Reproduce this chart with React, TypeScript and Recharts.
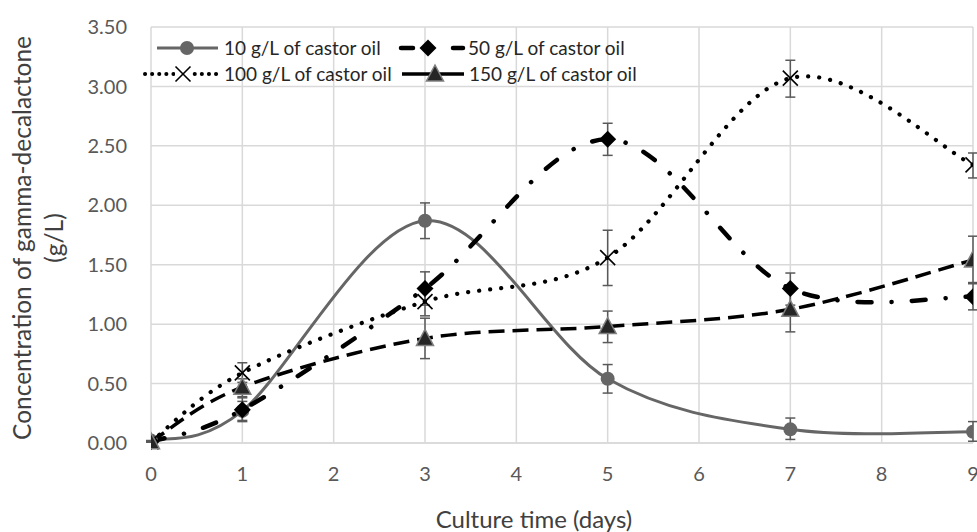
import React from 'react';
import { LineChart, Line, XAxis, YAxis, CartesianGrid, ErrorBar } from 'recharts';

document.body.style.margin = '0';

const days = [0, 1, 3, 5, 7, 9];
const oil10 = [0.02, 0.27, 1.87, 0.54, 0.115, 0.095];
const oil10Err = [[0, 0], [0.08, 0.08], [0.15, 0.15], [0.12, 0.12], [0.085, 0.095], [0.08, 0.085]];
const oil50 = [0.01, 0.28, 1.3, 2.555, 1.3, 1.23];
const oil50Err = [[0, 0], [0.1, 0.1], [0.14, 0.14], [0.135, 0.135], [0.14, 0.13], [0.11, 0.12]];
const oil100 = [0.01, 0.59, 1.19, 1.56, 3.07, 2.34];
const oil100Err = [[0, 0], [0.08, 0.085], [0.12, 0.12], [0.235, 0.23], [0.16, 0.15], [0.11, 0.1]];
const oil150 = [0.01, 0.47, 0.88, 0.98, 1.125, 1.54];
const oil150Err = [[0, 0], [0.08, 0.07], [0.17, 0.17], [0.135, 0.13], [0.19, 0.19], [0.2, 0.2]];
const xTicks = [0, 1, 2, 3, 4, 5, 6, 7, 8, 9];
const yTicks = [0, 0.5, 1, 1.5, 2, 2.5, 3, 3.5];
const seriesNames = ['10 g/L of castor oil', '50 g/L of castor oil', '100 g/L of castor oil', '150 g/L of castor oil'];

const data = days.map((d, i) => ({
  day: d,
  s10: oil10[i], e10: oil10Err[i],
  s50: oil50[i], e50: oil50Err[i],
  s100: oil100[i], e100: oil100Err[i],
  s150: oil150[i], e150: oil150Err[i],
}));

const FONT = 'Lato, "Noto Sans", sans-serif';
const GRAY = '#666666';
const DASHDOT = '14 20 0.1 20';
const DOTS = '0.1 11';
const LONGDASH = '16 8';

// Excel-like smoothed line (Catmull-Rom to bezier)
const excelCurve = (context: any) => {
  let pts: number[][] = [];
  return {
    areaStart() {},
    areaEnd() {},
    lineStart() { pts = []; },
    point(x: number, y: number) { pts.push([+x, +y]); },
    lineEnd() {
      if (!pts.length) return;
      context.moveTo(pts[0][0], pts[0][1]);
      for (let i = 0; i < pts.length - 1; i++) {
        const p0 = pts[i - 1] || pts[i];
        const p1 = pts[i];
        const p2 = pts[i + 1];
        const p3 = pts[i + 2] || p2;
        context.bezierCurveTo(
          p1[0] + (p2[0] - p0[0]) / 6, p1[1] + (p2[1] - p0[1]) / 6,
          p2[0] - (p3[0] - p1[0]) / 6, p2[1] - (p3[1] - p1[1]) / 6,
          p2[0], p2[1]
        );
      }
    },
  };
};

const Circle = (cx: number, cy: number, k?: any) => <circle key={k} cx={cx} cy={cy} r={7} fill={GRAY} />;
const Diamond = (cx: number, cy: number, k?: any) => (
  <polygon key={k} points={`${cx},${cy - 8.5} ${cx + 8.5},${cy} ${cx},${cy + 8.5} ${cx - 8.5},${cy}`} fill="#000" />
);
const Cross = (cx: number, cy: number, k?: any) => (
  <g key={k} stroke="#000" strokeWidth={1.6}>
    <line x1={cx - 7.5} y1={cy - 7.5} x2={cx + 7.5} y2={cy + 7.5} />
    <line x1={cx - 7.5} y1={cy + 7.5} x2={cx + 7.5} y2={cy - 7.5} />
  </g>
);
const Triangle = (cx: number, cy: number, k?: any) => (
  <polygon key={k} points={`${cx},${cy - 9} ${cx + 8.5},${cy + 7} ${cx - 8.5},${cy + 7}`} fill="#262626" stroke="#808080" strokeWidth={1.5} />
);

const dotOf = (fn: any) => (p: any) => fn(p.cx, p.cy, p.key || `${p.index}`);

const LegendBox = () => (
  <svg width={977} height={100} style={{ position: 'absolute', left: 0, top: 0, pointerEvents: 'none' }}>
    <g fontFamily={FONT} fontSize={19} fill="#262626">
      <line x1={157} y1={48} x2={218} y2={48} stroke={GRAY} strokeWidth={3} />
      {Circle(187, 48)}
      <text x={224} y={54.5}>{seriesNames[0]}</text>
      <line x1={401} y1={48} x2={413} y2={48} stroke="#000" strokeWidth={4.5} strokeLinecap="round" />
      {Diamond(428, 48)}
      <line x1={453} y1={48} x2={463} y2={48} stroke="#000" strokeWidth={4.5} strokeLinecap="round" />
      <text x={468} y={54.5}>{seriesNames[1]}</text>
      <line x1={145} y1={74} x2={218} y2={74} stroke="#000" strokeWidth={4} strokeDasharray="0.1 7" strokeLinecap="round" />
      <rect x={175} y={66} width={16} height={16} fill="#fff" />
      {Cross(183, 74)}
      <text x={224} y={80.5}>{seriesNames[2]}</text>
      <line x1={402} y1={74} x2={464} y2={74} stroke="#000" strokeWidth={3.5} />
      {Triangle(435, 74)}
      <text x={469} y={80.5}>{seriesNames[3]}</text>
    </g>
  </svg>
);

const App = () => (
  <div style={{ width: 977, height: 532, position: 'relative', background: '#fff', overflow: 'hidden' }}>
    <LineChart width={977} height={532} data={data} margin={{ top: 27, right: 4, left: 0, bottom: 0 }}>
      <CartesianGrid stroke="#d9d9d9" strokeWidth={1.5} verticalValues={xTicks} horizontalValues={yTicks} />
      <XAxis
        type="number"
        dataKey="day"
        domain={[0, 9]}
        ticks={xTicks}
        interval={0}
        height={89}
        axisLine={{ stroke: '#d9d9d9', strokeWidth: 1.5 }}
        tickLine={false}
        tickMargin={18}
        tick={{ fill: '#595959', fontSize: 20, fontFamily: FONT }}
        label={() => (
          <text x={534} y={528} textAnchor="middle" fill="#404040" fontSize={24} fontFamily={FONT}>
            Culture time (days)
          </text>
        )}
        allowDataOverflow
      />
      <YAxis
        type="number"
        domain={[0, 3.5]}
        ticks={yTicks}
        interval={0}
        width={151}
        axisLine={false}
        tickLine={false}
        tickMargin={18}
        tickFormatter={(v: number) => v.toFixed(2)}
        tick={{ fill: '#595959', fontSize: 20, fontFamily: FONT }}
        label={(props: any) => {
          const vb = props.viewBox || {};
          const cy = (vb.y ?? 27) + (vb.height ?? 416) / 2 + 3;
          return (
            <text transform={`translate(0,${cy}) rotate(-90)`} textAnchor="middle" fill="#404040" fontSize={24.5} fontFamily={FONT}>
              <tspan x={0} y={31}>Concentration of gamma-decalactone</tspan>
              <tspan x={0} y={63}>(g/L)</tspan>
            </text>
          );
        }}
      />
      <Line
        dataKey="s10"
        type={excelCurve as any}
        stroke={GRAY}
        strokeWidth={3}
        dot={dotOf(Circle)}
        activeDot={false}
        isAnimationActive={false}
      >
        <ErrorBar dataKey="e10" direction="y" width={5} stroke="#595959" strokeWidth={1.5} />
      </Line>
      <Line
        dataKey="s50"
        type={excelCurve as any}
        stroke="#000"
        strokeWidth={4.5}
        strokeDasharray={DASHDOT}
        strokeLinecap="round"
        dot={dotOf(Diamond)}
        activeDot={false}
        isAnimationActive={false}
      >
        <ErrorBar dataKey="e50" direction="y" width={5} stroke="#595959" strokeWidth={1.5} />
      </Line>
      <Line
        dataKey="s100"
        type={excelCurve as any}
        stroke="#000"
        strokeWidth={4.2}
        strokeDasharray={DOTS}
        strokeLinecap="round"
        dot={dotOf(Cross)}
        activeDot={false}
        isAnimationActive={false}
      >
        <ErrorBar dataKey="e100" direction="y" width={5} stroke="#595959" strokeWidth={1.5} />
      </Line>
      <Line
        dataKey="s150"
        type={excelCurve as any}
        stroke="#000"
        strokeWidth={3.5}
        strokeDasharray={LONGDASH}
        dot={dotOf(Triangle)}
        activeDot={false}
        isAnimationActive={false}
      >
        <ErrorBar dataKey="e150" direction="y" width={5} stroke="#595959" strokeWidth={1.5} />
      </Line>
    </LineChart>
    <LegendBox />
  </div>
);

export default App;
